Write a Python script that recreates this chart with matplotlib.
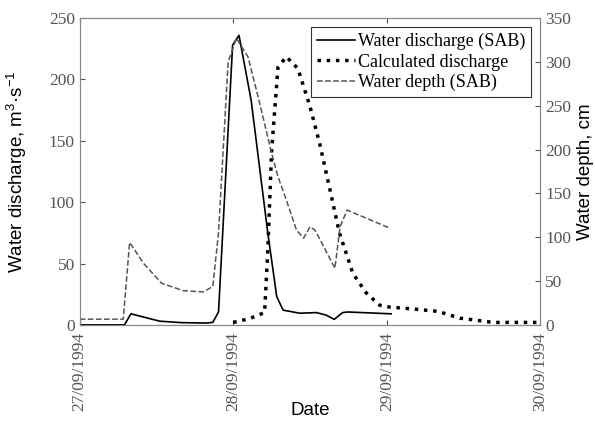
import matplotlib.pyplot as plt
import matplotlib.dates as mdates
from datetime import datetime, timedelta

base = datetime(1994, 9, 27)

# hours after 27/09/1994 00:00
q_sab_h = [0, 7, 8, 12.5, 16, 19.8, 20.8, 21.7, 23.9, 24.9, 26.8, 29.4, 30.8, 31.8,
           34.4, 37, 38.5, 39.8, 41.1, 41.9, 48.7]
q_sab = [0, 0, 9, 3, 1.8, 1.5, 2, 10.5, 228, 236, 183, 75, 23, 12,
         9.5, 10, 8, 4.5, 10, 10.5, 9]

q_calc_h = [24, 26.5, 28.9, 29.4, 30, 31, 32.3, 34.1, 36, 37.5, 39, 40.6, 42.7,
            44.8, 46.9, 48.4, 52, 56, 59.4, 64.6, 71.4]
q_calc = [2, 5, 10, 60, 142, 210, 218.5, 209, 178, 148, 113, 75, 42,
          26, 16, 14.5, 13, 11, 5.5, 2, 2]

depth_h = [0, 6.8, 7.8, 10, 12.8, 16.2, 19.3, 20.8, 21.7, 23.2, 24.5, 26.3, 27.9,
           30, 31, 32.3, 33.9, 35, 36, 36.8, 39.9, 40.7, 41.8, 48.6]
depth = [6.5, 6.5, 94, 70, 47.5, 39, 37.6, 43.7, 105, 300, 327, 306, 260,
         196, 169, 142.5, 108, 99, 112, 108, 64.6, 112, 131, 110]


def to_dates(hours):
    return [base + timedelta(hours=h) for h in hours]


plt.rcParams['font.family'] = ['Liberation Serif']
plt.rcParams['mathtext.fontset'] = 'custom'
plt.rcParams['mathtext.rm'] = 'Liberation Sans'
plt.rcParams['mathtext.default'] = 'regular'
gray = '#555555'

fig = plt.figure(figsize=(5.95, 4.32), dpi=100)
ax1 = fig.add_axes([0.134, 0.248, 0.774, 0.71])
ax2 = ax1.twinx()

l1, = ax1.plot(to_dates(q_sab_h), q_sab, '-', color='black', lw=1.2,
               label='Water discharge (SAB)')
l2, = ax1.plot(to_dates(q_calc_h), q_calc, ':', color='black', lw=2.5,
               label='Calculated discharge')
l3, = ax2.plot(to_dates(depth_h), depth, '--', color='#555555', lw=1.1,
               label='Water depth (SAB)')

ax1.set_xlim(base, base + timedelta(days=3))
ax1.set_ylim(0, 250)
ax2.set_ylim(0, 350)
ax1.set_yticks(range(0, 251, 50))
ax2.set_yticks(range(0, 351, 50))
ax1.xaxis.set_major_locator(mdates.DayLocator())
ax1.xaxis.set_major_formatter(mdates.DateFormatter('%d/%m/%Y'))
ax1.tick_params(axis='x', rotation=90, direction='in', top=True, colors=gray,
                labelsize=12.5, labelcolor=gray, pad=5)
ax1.tick_params(axis='y', direction='in', colors=gray, labelsize=12.5, labelcolor=gray)
ax2.tick_params(axis='y', direction='in', colors=gray, labelsize=12.5, labelcolor=gray)
for ax in (ax1, ax2):
    for s in ax.spines.values():
        s.set_color('#888888')
        s.set_linewidth(0.8)

ax1.set_xlabel('Date', family='Liberation Sans', fontsize=13.5)
ax1.xaxis.set_label_coords(0.5, -0.25)
ax1.set_ylabel('Water discharge, m$^3$·s$^{-1}$', family='Liberation Sans', fontsize=13.5)
ax1.yaxis.set_label_coords(-0.11, 0.5)
ax2.set_ylabel('Water depth, cm', family='Liberation Sans', fontsize=13.5)

leg = ax1.legend(handles=[l1, l2, l3], loc='upper right', fontsize=13,
                 fancybox=False, framealpha=1, edgecolor='#333333',
                 borderaxespad=0.5, handlelength=2.1, handletextpad=0.2,
                 borderpad=0.3, labelspacing=0.2)
leg.get_frame().set_linewidth(0.8)

plt.savefig('out.png', dpi=100)
